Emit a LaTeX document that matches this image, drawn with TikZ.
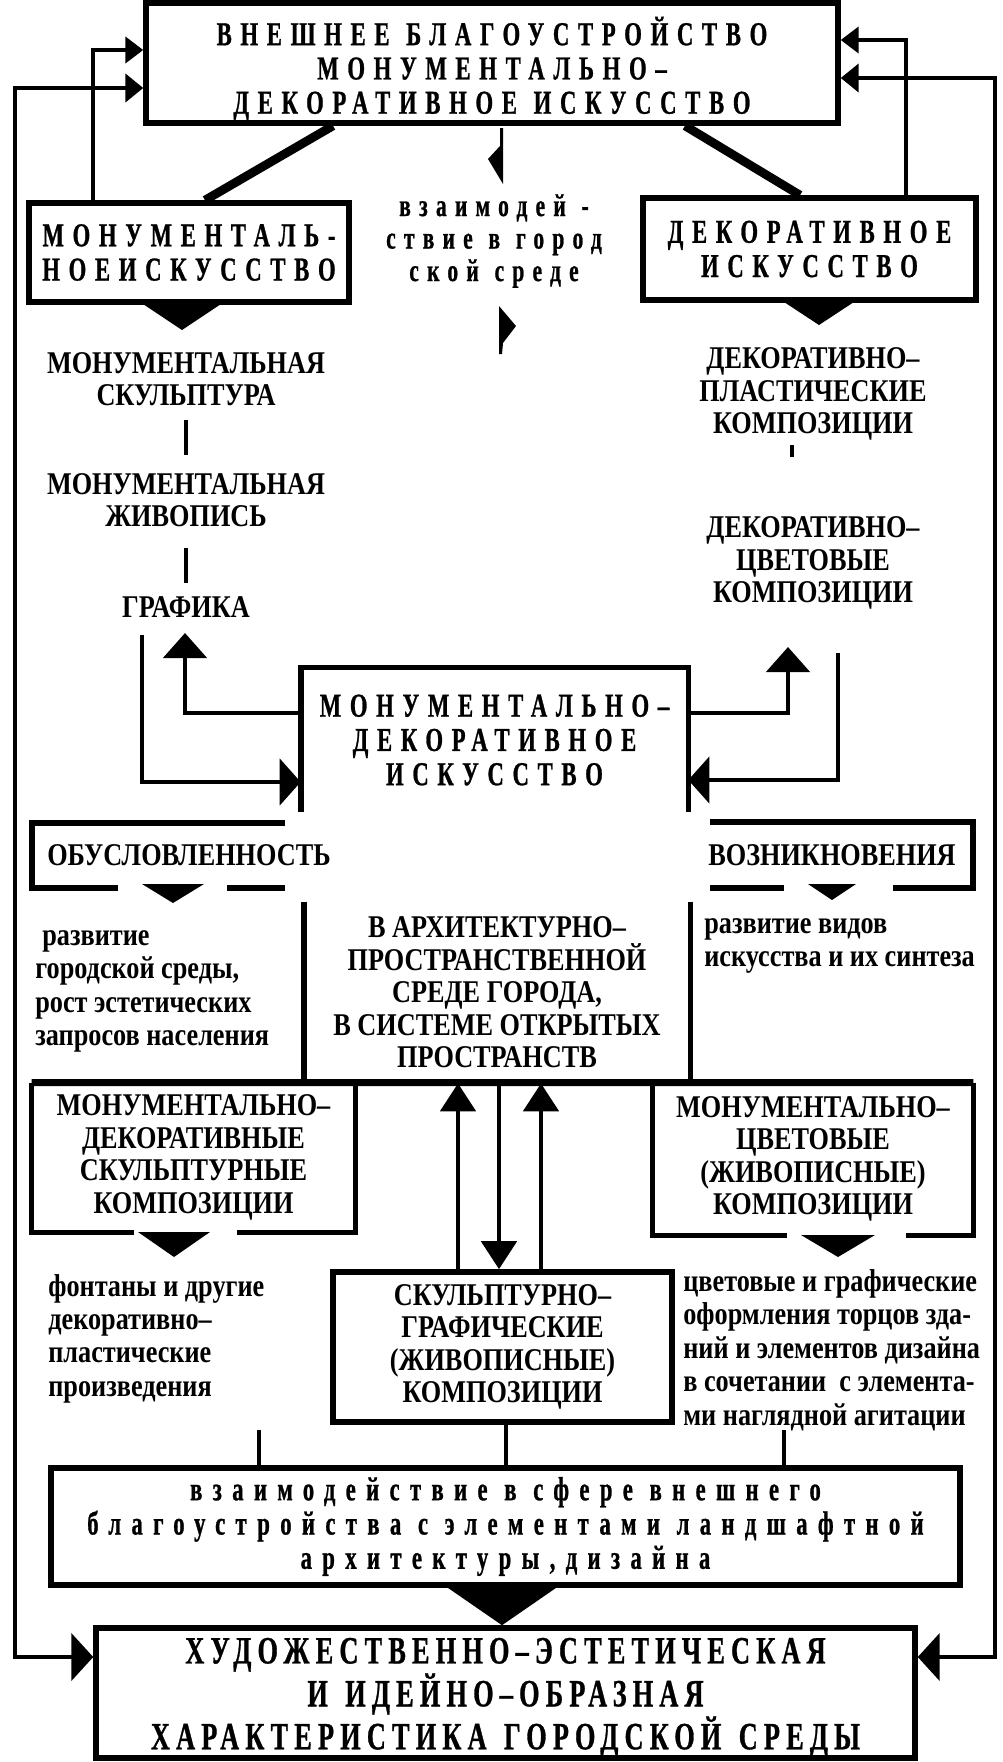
\documentclass[tikz,border=0pt]{standalone}
\usepackage{fontspec}
\usetikzlibrary{arrows.meta}
\setmainfont{Liberation Serif}
\newfontfamily\condfont{Liberation Serif}[FakeStretch=0.83]
\newfontfamily\spacedfont{Liberation Serif}[FakeStretch=0.68,LetterSpace=26,FakeBold=0.8]
\newfontfamily\tightfont{Liberation Serif}[FakeStretch=0.68,LetterSpace=16,FakeBold=0.8]
\newfontfamily\widerfont{Liberation Serif}[FakeStretch=0.68,LetterSpace=31,FakeBold=0.8]
\newcommand\colfont{\condfont\bfseries\fontsize{18pt}{18.5pt}\selectfont}
\newcommand\lowfont{\condfont\bfseries\fontsize{18pt}{19pt}\selectfont}
\newcommand\widefont{\spacedfont\bfseries\fontsize{19pt}{19.5pt}\selectfont\spaceskip=0.5em\relax}
\newcommand\midfont{\spacedfont\bfseries\fontsize{18pt}{18.5pt}\selectfont\spaceskip=0.5em\relax}
\newcommand\vzfont{\widerfont\bfseries\fontsize{19pt}{19.5pt}\selectfont\spaceskip=0.5em\relax}
\newcommand\harfont{\tightfont\bfseries\fontsize{22pt}{20.5pt}\selectfont\spaceskip=0.45em\relax}
\newcommand\downmark[4]{\fill (#1-#3,#2) -- (#1+#3,#2) -- (#1,#2+#4) -- cycle;}

\begin{document}
\begin{tikzpicture}[x=0.02cm, y=-0.02cm,
  box/.style={draw, line width=3.2pt, inner sep=0pt, align=center, font=\widefont},
  col/.style={inner sep=0pt, align=center, font=\colfont},
  low/.style={inner sep=0pt, align=left, anchor=west, font=\lowfont},
  spc/.style={inner sep=0pt, align=center, font=\widefont},
  conn/.style={line width=2.8pt},
  boxline/.style={line width=3.2pt},
  toptip/.style={-{Triangle[length=0.36cm,width=0.52cm]}},
  sidetip/.style={-{Triangle[length=0.42cm,width=0.92cm]}},
  bothtip/.style={{Triangle[length=0.36cm,width=0.56cm]}-{Triangle[length=0.44cm,width=0.94cm]}},
  uptip/.style={-{Triangle[length=0.5cm,width=0.86cm]}},
  midtip/.style={-{Triangle[length=0.56cm,width=0.7cm]}}]
  \useasboundingbox (0,0) rectangle (1002,1762);

  \node[box, minimum width=13.84cm, minimum height=2.4cm] (top) at (492,63) {\rule{0pt}{0.8cm}ВНЕШНЕЕ БЛАГОУСТРОЙСТВО\\МОНУМЕНТАЛЬНО–\\ДЕКОРАТИВНОЕ ИСКУССТВО};
  \node[box, minimum width=6.4cm, minimum height=1.98cm] (mon) at (189,252.5) {МОНУМЕНТАЛЬ-\\НОЕИСКУССТВО};
  \node[box, minimum width=6.66cm, minimum height=2.04cm] (dec) at (809.5,249) {ДЕКОРАТИВНОЕ\\ИСКУССТВО};
  \node[spc, font=\midfont] (vzg) at (494,241) {взаимодей -\\ствие в город\\ской среде};

  \node[col] (msk) at (186,379) {МОНУМЕНТАЛЬНАЯ\\СКУЛЬПТУРА};
  \node[col] (mzh) at (186,500) {МОНУМЕНТАЛЬНАЯ\\ЖИВОПИСЬ};
  \node[col] (gra) at (186,607) {ГРАФИКА};
  \node[col] (dpk) at (813,394) {ДЕКОРАТИВНО–\\ПЛАСТИЧЕСКИЕ\\КОМПОЗИЦИИ};
  \node[col] (dck) at (813,563) {ДЕКОРАТИВНО–\\ЦВЕТОВЫЕ\\КОМПОЗИЦИИ};

  \node[spc, minimum width=7.74cm, minimum height=2.88cm] (md) at (494.5,740) {МОНУМЕНТАЛЬНО–\\ДЕКОРАТИВНОЕ\\ИСКУССТВО};
  \node[col] (obu) at (189,855) {ОБУСЛОВЛЕННОСТЬ};
  \node[col] (voz) at (832,855) {ВОЗНИКНОВЕНИЯ};
  \node[low] (rgs) at (35,991.5) {\hspace*{0.14cm}развитие\\городской среды,\\рост эстетических\\запросов населения};
  \node[col, minimum width=7.72cm, minimum height=3.62cm] (arch) at (497,992.5) {В АРХИТЕКТУРНО–\\ПРОСТРАНСТВЕННОЙ\\СРЕДЕ ГОРОДА,\\В СИСТЕМЕ ОТКРЫТЫХ\\ПРОСТРАНСТВ};
  \node[low] (rvi) at (704,946) {развитие видов\\искусства и их синтеза};

  \node[col, minimum width=6.46cm, minimum height=2.98cm] (mds) at (193.5,1157.5) {МОНУМЕНТАЛЬНО–\\ДЕКОРАТИВНЫЕ\\СКУЛЬПТУРНЫЕ\\КОМПОЗИЦИИ};
  \node[col, minimum width=6.4cm, minimum height=3.04cm] (mcv) at (813,1159) {МОНУМЕНТАЛЬНО–\\ЦВЕТОВЫЕ\\(ЖИВОПИСНЫЕ)\\КОМПОЗИЦИИ};
  \node[box, font=\colfont, minimum width=6.78cm, minimum height=3cm] (sk) at (502.5,1347) {СКУЛЬПТУРНО–\\ГРАФИЧЕСКИЕ\\(ЖИВОПИСНЫЕ)\\КОМПОЗИЦИИ};
  \node[low] (fon) at (48,1338.5) {фонтаны и другие\\декоративно–\\пластические\\произведения};
  \node[low] (tsv) at (683,1350) {цветовые и графические\\оформления торцов зда-\\ний и элементов дизайна\\в сочетании \ с элемента-\\ми наглядной агитации};
  \node[box, font=\vzfont, minimum width=18.18cm, minimum height=2.34cm] (vz) at (505.5,1526.5) {взаимодействие в сфере внешнего\\благоустройства с элементами ландшафтной\\архитектуры,дизайна};
  \node[box, font=\harfont, minimum width=16.38cm, minimum height=2.6cm] (har) at (505.5,1693) {\rule{0pt}{0.7cm}ХУДОЖЕСТВЕННО–ЭСТЕТИЧЕСКАЯ\\И ИДЕЙНО–ОБРАЗНАЯ\\ХАРАКТЕРИСТИКА ГОРОДСКОЙ СРЕДЫ};

  \coordinate (graup) at (185,633);
  \coordinate (grad) at (142,635);
  \coordinate (dcup) at (788,647);
  \coordinate (dcdn) at (838,653);

  \draw[conn, toptip] (mon.north -| 93,0) |- (top.west |- 0,50);
  \draw[conn, toptip] (dec.north -| 906,0) |- (top.east |- 0,40);
  \draw[conn, bothtip] (top.west |- 0,88) -| (15,1657) -- (har.west |- 0,1657);
  \draw[conn, bothtip] (top.east |- 0,78) -| (995,1657) -- (har.east |- 0,1657);
  \draw[line width=5pt] (top.south -| 333,0) -- (mon.north -| 205,0);
  \draw[line width=5pt] (top.south -| 685,0) -- (dec.north -| 800,0);

  \fill (500,128) -- (503,128) -- (503,184) -- (488,159) -- (500,146) -- cycle;
  \fill (499,306) -- (516,326) -- (503,343) -- (502,354) -- (499,354) -- cycle;
  \downmark{182}{302}{42}{28}
  \downmark{819}{300}{38}{25}

  \draw[conn] (msk.south |- 0,420) -- (mzh.north |- 0,455);
  \draw[conn] (mzh.south |- 0,548) -- (gra.north |- 0,583);
  \draw[conn] (792,445) -- (792,457);

  \draw[boxline] (md.south west) |- (md.north east) -- (md.south east);
  \draw[conn, uptip] (md.west |- 0,713) -| (graup);
  \draw[conn, sidetip] (grad) |- (md.west |- 0,782);
  \draw[conn, uptip] (md.east |- 0,713) -| (dcup);
  \draw[conn, sidetip] (dcdn) |- (md.east |- 0,780);

  \draw[boxline] (285,823) -| (32,888) -- (118,888);
  \draw[boxline] (227,888) -- (285,888);
  \downmark{173}{884}{31}{19}
  \draw[boxline] (710,822) -| (973,888) -- (893,888);
  \draw[boxline] (784,888) -- (710,888);
  \downmark{832}{884}{24}{16}

  \draw[boxline] (arch.north west) -- (arch.south west) (arch.north east) -- (arch.south east);
  \draw[line width=4pt] (mds.north west) -- (mcv.north east);
  \draw[boxline] (mds.north west) -- (mds.south west) -- ++(102,0);
  \draw[boxline] (mds.north east) -- (mds.south east) -- ++(-118,0);
  \downmark{174}{1232}{36}{25}
  \draw[boxline] (mcv.north west) -- (mcv.south west) -- ++(134,0);
  \draw[boxline] (mcv.north east) -- (mcv.south east) -- ++(-67,0);
  \downmark{838}{1235}{37}{22}

  \draw[conn, midtip] (sk.north -| 458,0) -- (arch.south -| 458,0);
  \draw[conn, midtip] (arch.south -| 499,0) -- (sk.north -| 499,0);
  \draw[conn, midtip] (sk.north -| 541,0) -- (arch.south -| 541,0);

  \draw[conn] (vz.north -| 259,0) -- ++(0,-35);
  \draw[conn] (sk.south -| 506,0) -- (vz.north -| 506,0);
  \draw[conn] (vz.north -| 784,0) -- ++(0,-35);
  \draw[line width=3pt, -{Triangle[length=0.8cm,width=2.3cm]}] (vz.south -| 502,0) -- (har.north -| 502,0);
\end{tikzpicture}
\end{document}
